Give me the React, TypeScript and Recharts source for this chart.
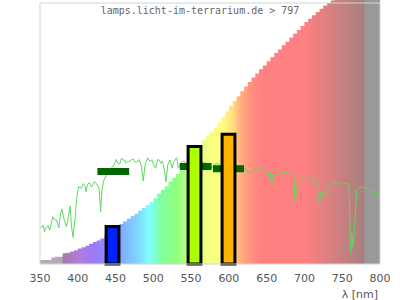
import React from "react";
import {
  Area,
  ComposedChart,
  Line,
  ReferenceArea,
  XAxis,
  YAxis,
} from "recharts";

// wavelength axis
const ticks = [350, 400, 450, 500, 550, 600, 650, 700, 750, 800];

// stepped spectrum backdrop (percent of plot height)
const bandNm = [
  350, 355, 360, 365, 370, 375, 380, 385, 390, 395, 400, 405, 410, 415, 420,
  425, 430, 435, 440, 445, 450, 455, 460, 465, 470, 475, 480, 485, 490, 495,
  500, 505, 510, 515, 520, 525, 530, 535, 540, 545, 550, 555, 560, 565, 570,
  575, 580, 585, 590, 595, 600, 605, 610, 615, 620, 625, 630, 635, 640, 645,
  650, 655, 660, 665, 670, 675, 680, 685, 690, 695, 700, 705, 710, 715, 720,
  725, 730, 735, 740, 745, 750, 755, 760, 765, 770, 775, 780, 785, 790, 795,
  800,
];
const bandLevel = [
  1.5, 1.5, 1.5, 2.5, 2.8, 2.8, 4.1, 4.3, 4.8, 5.3, 5.9, 6.4, 7.0, 7.8, 8.4,
  9.0, 9.8, 11.0, 12.0, 13.0, 14.0, 15.3, 16.3, 17.3, 18.3, 19.3, 20.4, 21.5,
  22.6, 23.8, 25.2, 27.0, 28.4, 29.8, 31.5, 33.0, 34.5, 35.8, 37.2, 39.2, 41.5,
  43.5, 45.5, 47.5, 49.2, 50.8, 52.4, 54.3, 56.3, 58.4, 60.5, 62.5, 64.3, 66.2,
  68.0, 69.7, 71.5, 73.0, 74.6, 76.1, 77.7, 79.2, 80.8, 82.2, 83.8, 85.2, 86.8,
  88.2, 89.7, 91.2, 92.7, 94.0, 95.3, 96.6, 97.8, 99.0, 100.0, 101.0, 102, 103,
  104, 105, 106, 107, 108, 109, 110, 111, 112, 113, 114,
];

// measured lamp spectrum (green trace)
const traceNm = [
  351, 354, 356, 358, 361, 363, 367, 369, 372, 375, 377, 379, 382, 385, 388,
  390, 391.5, 393.7, 396.8, 398, 399.4, 401, 404.7, 407, 409, 411, 413, 415.7,
  418, 420, 422, 424.5, 426, 428, 430.3, 432, 434.7, 437.8, 440, 442, 445, 448,
  451, 453, 455.5, 458, 460, 462.5, 464, 467, 469, 471, 473.5, 476, 479, 481,
  483.7, 486.7, 489, 492.5, 495.6, 498, 500, 503, 505, 506.6, 510, 512, 514.5,
  516.8, 519, 522, 525, 527, 528.7, 531, 533, 536, 540, 545, 550, 555, 560, 565,
  570, 575, 578, 580, 584, 590, 600, 610, 615, 620, 623.5, 628, 631.5, 636.8,
  641, 645.5, 650, 652, 654.4, 656.6, 658.8, 663, 667.6, 674, 681, 686, 687.5,
  689.7, 692, 696, 700.7, 705, 711.7, 716, 718.4, 720, 722, 725, 727, 729.5,
  731.6, 733.8, 738, 744.8, 751.4, 757, 759, 760, 761, 762.5, 764, 766, 768,
  769, 772, 778, 782, 788, 791, 794, 797.7, 800,
];
const traceLevel = [
  13.7, 14.9, 12.4, 14.0, 14.6, 13.0, 18.1, 17.0, 16.9, 13.8, 19.0, 21.0, 16.9,
  14.3, 18.8, 22.2, 14.9, 10.2, 18.8, 23.2, 27.1, 29.6, 29.0, 30.8, 30.3, 27.7,
  30.5, 31.2, 29.5, 30.3, 31.5, 30.9, 30.0, 29.6, 20.0, 28.4, 32.2, 34.1, 36.0,
  34.5, 37.0, 37.9, 40.1, 38.5, 38.3, 40.5, 39.8, 39.8, 38.6, 39.5, 39.2, 40.0,
  40.2, 39.0, 39.2, 40.0, 38.2, 31.8, 37.9, 40.7, 39.2, 40.0, 38.2, 36.7, 39.0,
  40.2, 38.6, 39.5, 36.4, 31.5, 37.9, 39.8, 36.7, 39.0, 39.8, 40.7, 36.7, 38.5,
  39.5, 38.0, 39.0, 38.5, 38.0, 39.0, 38.5, 38.0, 36.9, 37.9, 38.6, 37.5, 37.0,
  37.0, 37.0, 36.7, 36.0, 34.5, 35.7, 36.3, 36.7, 36.0, 35.4, 34.1, 35.4, 30.3,
  34.7, 34.1, 35.4, 35.0, 34.7, 33.7, 23.9, 29.0, 31.5, 32.8, 32.2, 32.8, 32.5,
  31.5, 25.8, 23.2, 27.7, 27.1, 26.0, 27.1, 29.0, 30.3, 30.9, 31.2, 30.9, 30.7,
  30.3, 16.9, 4.1, 11.8, 6.6, 13.0, 22.0, 28.4, 29.4, 29.4, 29.0, 28.1, 27.1,
  27.7, 26.8, 27.3,
];

// colour bars
const barFrom = [437.5, 546, 591];
const barTo = [454.5, 563, 608];
const barLevel = [14.4, 45.0, 49.7];
const barColor = ["#0022ff", "#aaff00", "#ffb400"];

// dark green reference marks
const markFrom = [426, 535, 579];
const markTo = [468, 577, 620];
const markLevel = [35.4, 37.4, 36.5];
const MARK_HALF = 1.34; // half thickness in plot units

const spectrumStops: [number, string][] = [
  [350, "#b3abb3"],
  [378, "#b3abb3"],
  [381, "#a878a8"],
  [400, "#b080d8"],
  [420, "#a078f8"],
  [440, "#8890ff"],
  [460, "#80b0ff"],
  [480, "#80d8ff"],
  [495, "#80ffff"],
  [510, "#80ffa0"],
  [530, "#90ff80"],
  [550, "#c0ff80"],
  [570, "#f0ff80"],
  [590, "#ffff80"],
  [605, "#ffe080"],
  [615, "#ffb080"],
  [630, "#ff9080"],
  [645, "#ff8080"],
  [700, "#ff8080"],
  [779, "#a88080"],
  [780, "#999999"],
  [800, "#999999"],
];

const axisFont = { fill: "#555", fontSize: 11, fontFamily: "DejaVu Sans" };

export default function App() {
  const bandData = bandNm.map((nm, i) => ({ nm, level: bandLevel[i] }));
  const traceData = traceNm.map((nm, i) => ({ nm, level: traceLevel[i] }));

  return (
    <div style={{ position: "absolute", left: 0, top: 0, width: 400, height: 300 }}>
      <ComposedChart
        width={400}
        height={300}
        margin={{ top: 0, right: 20, bottom: 0, left: 40 }}
      >
        <defs>
          <linearGradient id="spectrum" x1="0" y1="0" x2="1" y2="0">
            {spectrumStops.map(([nm, c]) => (
              <stop key={nm} offset={(nm - 350) / 450} stopColor={c} />
            ))}
          </linearGradient>
        </defs>
        <XAxis
          type="number"
          dataKey="nm"
          domain={[350, 800]}
          ticks={ticks}
          allowDataOverflow
          tickLine={false}
          axisLine={false}
          height={36}
          tickMargin={4}
          tick={axisFont}
          label={{ value: "λ [nm]", position: "insideBottomRight", offset: 2, ...axisFont }}
        />
        <YAxis hide domain={[0, 101.15]} allowDataOverflow />
        <Area
          data={bandData}
          dataKey="level"
          type="stepAfter"
          stroke="none"
          fill="url(#spectrum)"
          fillOpacity={1}
          isAnimationActive={false}
        />
        <Line
          data={traceData}
          dataKey="level"
          type="linear"
          stroke="#5ed85e"
          strokeWidth={1}
          dot={false}
          activeDot={false}
          isAnimationActive={false}
        />
        {markLevel.map((lv, i) => (
          <ReferenceArea
            key={"m" + i}
            x1={markFrom[i]}
            x2={markTo[i]}
            y1={lv - MARK_HALF}
            y2={lv + MARK_HALF}
            fill="#006600"
            fillOpacity={1}
            stroke="none"
            zIndex={800}
          />
        ))}
        {barLevel.map((lv, i) => (
          <ReferenceArea
            key={"b" + i}
            x1={barFrom[i]}
            x2={barTo[i]}
            y1={0}
            y2={lv}
            fill={barColor[i]}
            fillOpacity={1}
            stroke="#000"
            strokeWidth={3}
            zIndex={900}
          />
        ))}
        <ReferenceArea
          x1={350}
          x2={800}
          y1={0}
          y2={100}
          fill="none"
          stroke="#d4d4d4"
          zIndex={950}
        />
      </ComposedChart>
      <div
        style={{
          position: "absolute",
          left: 0,
          top: 5,
          width: 400,
          textAlign: "center",
          fontFamily: "DejaVu Sans Mono",
          fontSize: 10,
          color: "#666",
        }}
      >
        lamps.licht-im-terrarium.de &gt; 797
      </div>
    </div>
  );
}
